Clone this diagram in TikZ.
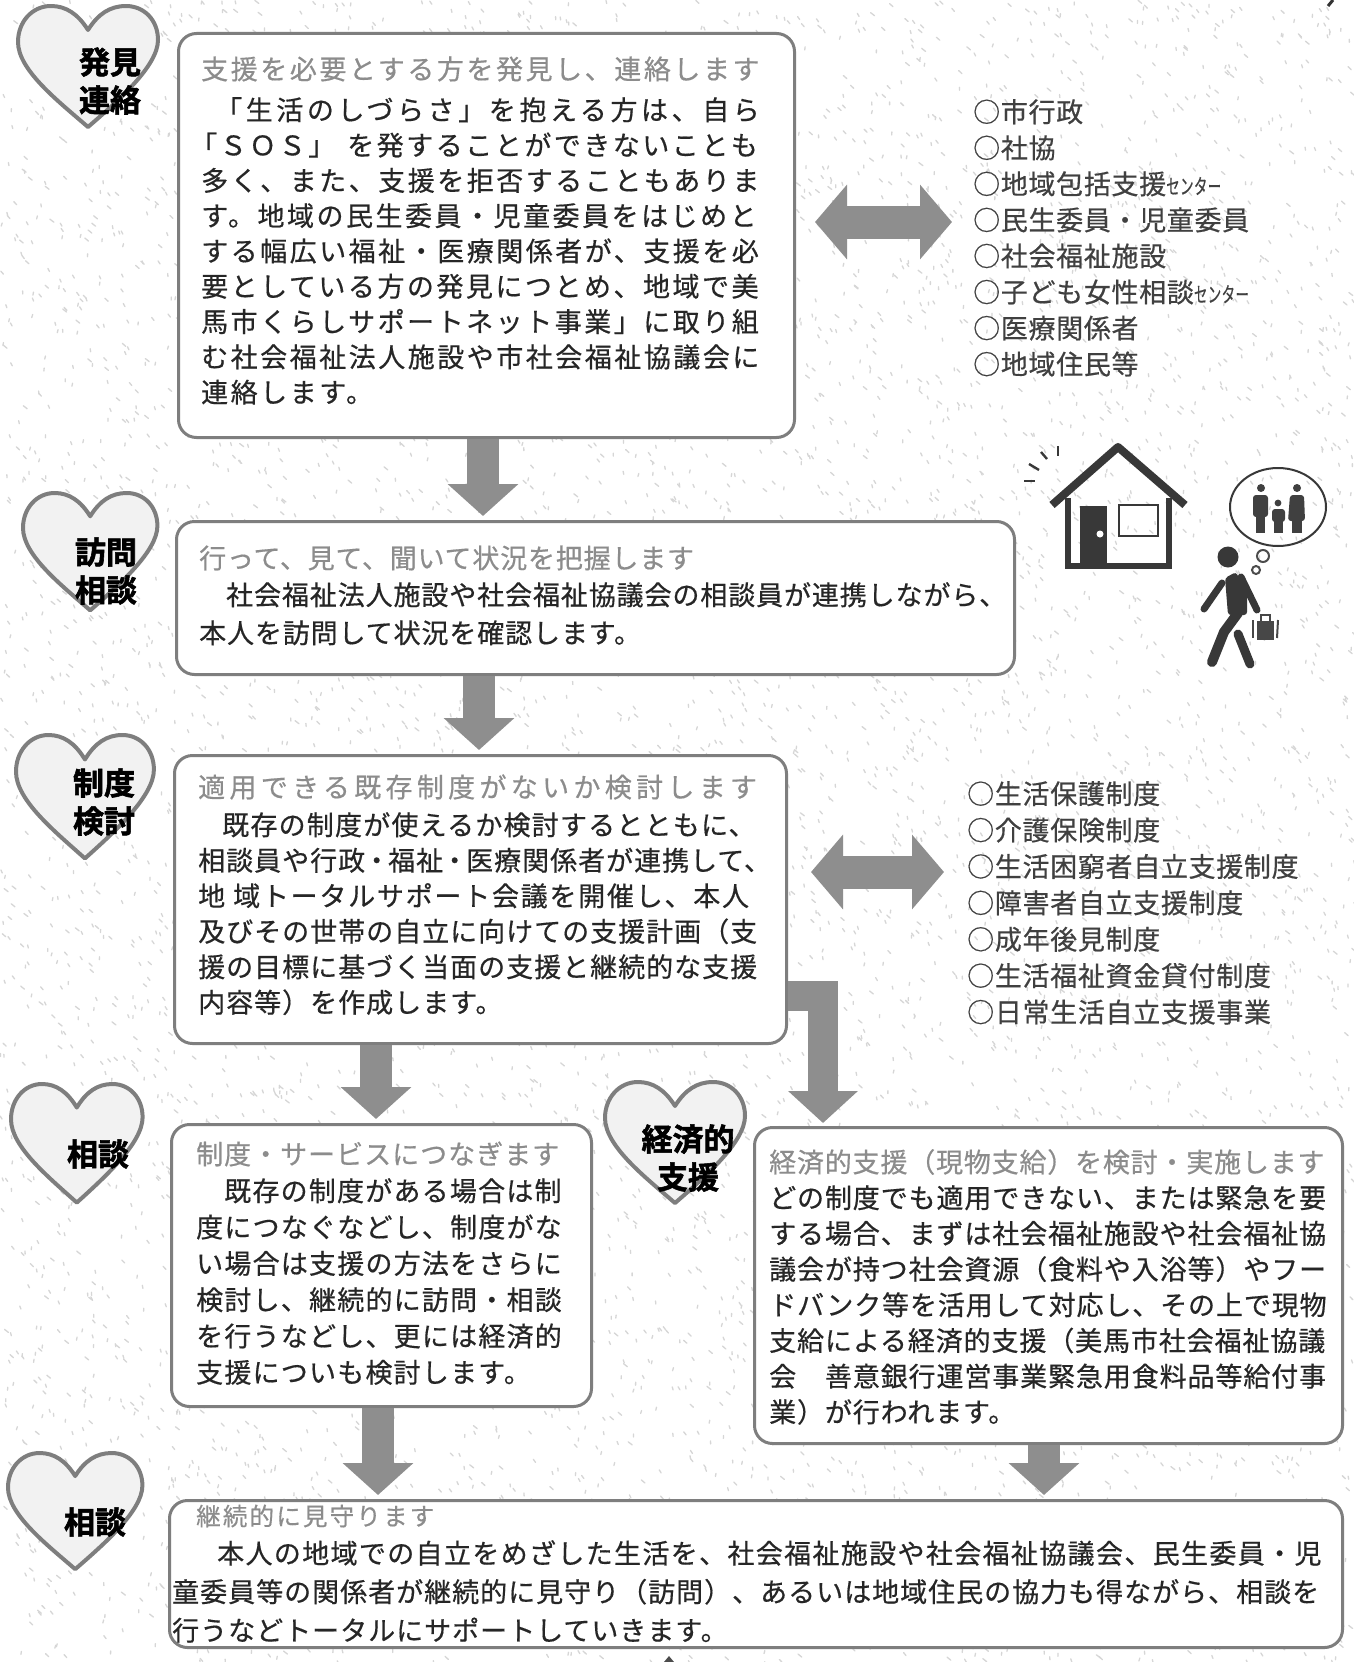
\documentclass[tikz,border=0pt]{standalone}
\usepackage{fontspec}
\usepackage{graphicx}
\usetikzlibrary{arrows.meta}
\setmainfont{Noto Sans CJK JP}
\newfontfamily\bodyf[FakeBold=0.5]{Noto Sans CJK JP}
\newfontfamily\headf[FakeBold=1.8]{Noto Sans CJK JP Bold}
\newcommand{\pitch}[1]{\addfontfeature{LetterSpace=#1}}
\newcommand{\sen}{\scalebox{0.5}[0.78]{センター}}
\newcommand{\nk}{\hspace{-2pt}・\hspace{-2pt}}
\definecolor{ink}{HTML}{262626}
\definecolor{listink}{HTML}{404040}
\definecolor{ttl}{HTML}{8C8C8C}
\definecolor{edge}{HTML}{7E7E7E}
\definecolor{blk}{HTML}{8E8E8E}
\definecolor{spk}{HTML}{D6D6D6}
\definecolor{hfill}{HTML}{F2F2F2}
\tikzset{
 panel/.style={draw=edge,line width=3pt,rounded corners=18pt,fill=white,anchor=north west,inner sep=0pt},
 ttlnode/.style={anchor=west,inner sep=0pt,text=ttl,font=\bodyf\fontsize{27}{30}\selectfont},
 bodynode/.style={anchor=north west,inner sep=0pt,text=ink,align=left},
 hlabel/.style={inner sep=0pt,text=black,align=center,font=\headf\fontsize{31}{38}\selectfont},
 blockdown/.style={draw=blk,line width=32pt,shorten >=4pt,-{Triangle[length=32pt,width=69pt,fill=blk]}},
 blockdouble/.style={draw=blk,line width=33pt,{Triangle[length=32pt,width=73pt,fill=blk]}-{Triangle[length=32pt,width=73pt,fill=blk]}},
 heart/.pic={\draw[draw=edge,line width=4pt,fill=hfill,line join=round]
   (70,24) .. controls (60,8) and (48,0) .. (33,0) .. controls (14,0) and (0,16) .. (0,36)
   .. controls (0,64) and (40,95) .. (70,121) .. controls (100,95) and (140,60) .. (140,34)
   .. controls (140,14) and (126,0) .. (108,0) .. controls (92,0) and (80,8) .. (70,24) -- cycle;},
}
\begin{document}
\begin{tikzpicture}[x=1pt,y=-1pt]
\useasboundingbox (0,0) rectangle (1354,1662);
\fill[white] (0,0) rectangle (1354,1662);
% paper speckle
\pgfmathsetseed{4242}
\foreach \i in {1,...,7000}{
  \pgfmathsetmacro\ax{rnd*1354}\pgfmathsetmacro\ay{rnd*1662}
  \pgfmathsetmacro\dx{rnd*5-1}
  \draw[spk,line width=1.3pt,line cap=round] (\ax,\ay) -- ++(\dx,3);
}
% panels
\node[panel,minimum width=616pt,minimum height=404pt] (b1) at (177,32) {};
\node[panel,minimum width=838pt,minimum height=153pt] (b2) at (175,520) {};
\node[panel,minimum width=612pt,minimum height=288pt] (b3) at (173,754) {};
\node[panel,minimum width=420pt,minimum height=282pt] (b4) at (170,1123) {};
\node[panel,minimum width=588pt,minimum height=316pt] (b5) at (753,1126) {};
\node[panel,minimum width=1173pt,minimum height=147pt] (b6) at (168,1499) {};
% hearts
\pic at (18,6) {heart};
\pic[xscale=.96,yscale=.97] at (23,493) {heart};
\pic[xscale=.985,yscale=1.02] at (16,735) {heart};
\pic[xscale=.94,yscale=.98] at (11,1084) {heart};
\pic at (605,1082) {heart};
\pic[xscale=.96,yscale=.96] at (8,1453) {heart};
\node[hlabel] (h1) at (110,81) {発見\\連絡};
\node[hlabel] (h2) at (106,571) {訪問\\相談};
\node[hlabel] (h3) at (104,802) {制度\\検討};
\node[hlabel] (h4) at (98,1154) {相談};
\node[hlabel] (h5) at (688,1158) {経済的\\支援};
\node[hlabel] (h6) at (95,1522) {相談};
% titles
\node[ttlnode] (t1) at (201,69) {\pitch{9.5}支援を必要とする方を発見し、連絡します};
\node[ttlnode] (t2) at (199,558) {\pitch{3}行って、見て、聞いて状況を把握します};
\node[ttlnode] (t3) at (198,787) {\pitch{16}適用できる既存制度がないか検討します};
\node[ttlnode] (t4) at (196,1154) {\pitch{3.7}制度・サービスにつなぎます};
\node[ttlnode] (t5) at (769,1162) {\pitch{3}経済的支援（現物支給）を検討・実施します};
\node[ttlnode] (t6) at (196,1516) {\fontsize{24.5}{26}\selectfont\pitch{9}継続的に見守ります};
% bodies
\node[bodynode,font=\bodyf\fontsize{27}{35.3}\selectfont\pitch{9.3}] (x1) at (201,97) {%
\hspace*{14pt}{\pitch{13.3}「生活のしづらさ」を抱える方は、自ら}\\
\hspace*{-11pt}「ＳＯＳ」\hspace{12pt}を発することができないことも\\
多く、また、支援を拒否することもありま\\
す。地域の民生委員・児童委員をはじめと\\
する幅広い福祉・医療関係者が、支援を必\\
要としている方の発見につとめ、地域で美\\
馬市くらしサポートネット事業」に取り組\\
む社会福祉法人施設や市社会福祉協議会に\\
連絡します。};
\node[bodynode,font=\bodyf\fontsize{27}{38}\selectfont\pitch{3.3}] (x2) at (199,582) {%
\hspace*{27pt}社会福祉法人施設や社会福祉協議会の相談員が連携しながら、\\
本人を訪問して状況を確認します。};
\node[bodynode,font=\bodyf\fontsize{27}{35.5}\selectfont\pitch{3.7}] (x3) at (198,812) {%
\hspace*{24pt}{\pitch{4.5}既存の制度が使えるか検討するとともに、}\\
相談員や行政\nk 福祉\nk 医療関係者が連携して、\\
{\pitch{6.5}地\hspace{8pt}域トータルサポート会議を開催し、本人}\\
及びその世帯の自立に向けての支援計画（支\\
援の目標に基づく当面の支援と継続的な支援\\
内容等）を作成します。};
\node[bodynode,font=\bodyf\fontsize{27}{36.3}\selectfont\pitch{4.5}] (x4) at (196,1178) {%
\hspace*{28pt}既存の制度がある場合は制\\
度につなぐなどし、制度がな\\
い場合は支援の方法をさらに\\
検討し、継続的に訪問・相談\\
を行うなどし、更には経済的\\
支援についも検討します。};
\node[bodynode,font=\bodyf\fontsize{27}{35.7}\selectfont\pitch{3.3}] (x5) at (769,1185) {%
どの制度でも適用できない、または緊急を要\\
する場合、まずは社会福祉施設や社会福祉協\\
議会が持つ社会資源（食料や入浴等）やフー\\
ドバンク等を活用して対応し、その上で現物\\
支給による経済的支援（美馬市社会福祉協議\\
会　善意銀行運営事業緊急用食料品等給付事\\
業）が行われます。};
\node[bodynode,font=\bodyf\fontsize{27}{38.5}\selectfont\pitch{3.7}] (x6) at (172,1540) {%
\hspace*{45pt}{\pitch{5}本人の地域での自立をめざした生活を、社会福祉施設や社会福祉協議会、民生委員・児}\\
童委員等の関係者が継続的に見守り（訪問）、あるいは地域住民の協力も得ながら、相談を\\
行うなどトータルにサポートしていきます。};
% lists
\node[bodynode,text=listink,font=\bodyf\fontsize{27}{36.05}\selectfont\pitch{2.5}] (l1) at (973,99) {%
○市行政\\○社協\\○地域包括支援\sen\\○民生委員・児童委員\\○社会福祉施設\\○子ども女性相談\sen\\○医療関係者\\○地域住民等};
\node[bodynode,text=listink,font=\bodyf\fontsize{27}{36.4}\selectfont\pitch{2.5}] (l2) at (967,781) {%
○生活保護制度\\○介護保険制度\\○生活困窮者自立支援制度\\○障害者自立支援制度\\○成年後見制度\\○生活福祉資金貸付制度\\○日常生活自立支援事業};
% block arrows
\draw[blockdown] (b1.south -| 483,0) -- (b2.north -| 483,0);
\draw[blockdown] (b2.south -| 479,0) -- (b3.north -| 479,0);
\draw[blockdown] (b3.south -| 376,0) -- (b4.north -| 376,0);
\draw[blockdown] (b4.south -| 378,0) -- (b6.north -| 378,0);
\draw[blockdown] (b5.south -| 1044,0) -- (b6.north -| 1044,0);
\draw[blk,line width=30pt,shorten >=3pt,-{Triangle[length=32pt,width=68pt,fill=blk]},line join=miter] (b3.east |- 0,996) -| (b5.north -| 823,0);
\coordinate (d1a) at (815,222); \coordinate (d1b) at (952,222);
\coordinate (d2a) at (811,872); \coordinate (d2b) at (944,872);
\draw[blockdouble] (d1a) -- (d1b);
\draw[blockdouble] (d2a) -- (d2b);
% house
\draw[black!78,line width=6pt] (1068,498) -- (1068,566) -- (1169,566) -- (1169,498);
\draw[black!78,line width=8pt,line cap=butt,line join=round] (1052,505) -- (1118,447) -- (1185,505);
\fill[black!78] (1080,506) rectangle (1107,566);
\fill[white] (1100,534) circle (3.5);
\draw[black!78,line width=2pt] (1119,505) rectangle (1158,536);
\foreach \ax/\ay/\bx/\by in {1058/446/1058/456,1041/452/1047/459,1029/464/1039/470,1024/481/1035/481}
  \draw[black!78,line width=2.4pt] (\ax,\ay) -- (\bx,\by);
% thought bubble
\draw[black!78,line width=2pt] (1278,507) ellipse (48 and 39);
\draw[black!70,line width=2pt] (1263,556) circle (6);
\draw[black!70,line width=2pt] (1256,570) circle (4);
\fill[black!75] (1261,488) circle (4);
\fill[black!75] (1297,488) circle (4);
\fill[black!75] (1278,503) circle (3.4);
\fill[black!75,rounded corners=3pt] (1253,495) rectangle (1268,517);
\fill[black!75] (1256,515) rectangle (1265,533);
\fill[black!75,rounded corners=3pt] (1272,509) rectangle (1285,522);
\fill[black!75] (1274,520) rectangle (1283,533);
\fill[black!75,rounded corners=3pt] (1290,495) -- (1304,495) -- (1305,521) -- (1288,521) -- cycle;
\fill[black!75] (1292,520) rectangle (1302,533);
% walking figure
\fill[black!78] (1228,557) circle (10.5);
\draw[black!78,line width=7pt,line cap=round] (1222,583) -- (1204,609);
\draw[black!78,line width=7pt,line cap=round] (1241,577) -- (1257,610);
\fill[black!78,rounded corners=3pt] (1225,578) -- (1236,572) -- (1247,595) -- (1247,615) -- (1228,615) -- cycle;
\draw[black!78,line width=10pt,line join=round,line cap=round] (1238,613) -- (1224,632) -- (1212,662);
\draw[black!78,line width=9pt,line cap=round] (1238,634) -- (1250,664);
\fill[black!72] (1257,621) rectangle (1274,640);
\draw[black!72,line width=2pt] (1261,621) -- (1261,615) -- (1270,615) -- (1270,621);
\draw[black!72,line width=2pt] (1253,620) -- (1253,638);
\draw[black!72,line width=2pt] (1278,620) -- (1277,638);
% edge marks
\draw[black!80,line width=3pt] (1333,0) -- (1328,6);
\fill[black!70] (664,1662) -- (669,1656) -- (674,1662) -- cycle;
\end{tikzpicture}
\end{document}
